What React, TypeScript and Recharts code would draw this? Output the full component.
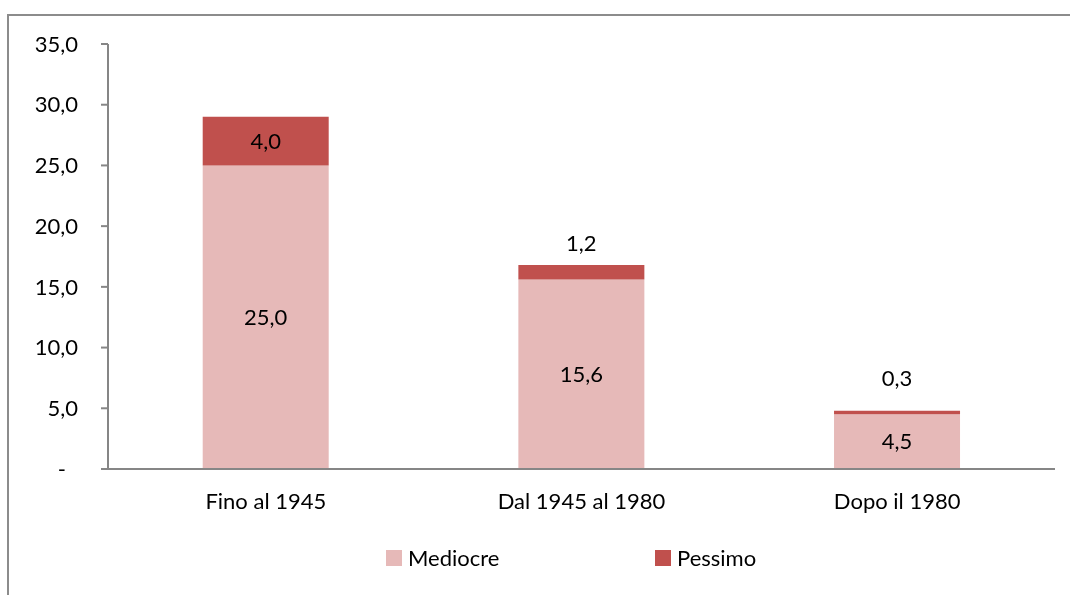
import { Bar, BarChart, XAxis, YAxis, LabelList } from 'recharts';

const categories = ['Fino al 1945', 'Dal 1945 al 1980', 'Dopo il 1980'];
const mediocre = [25.0, 15.6, 4.5];
const pessimo = [4.0, 1.2, 0.3];
const yTicks = [0, 5, 10, 15, 20, 25, 30, 35];
const edgeTicks = [0, 1, 2, 3];

const COLOR_MEDIOCRE = '#E6B9B8';
const COLOR_PESSIMO = '#C0504D';
const AXIS_GRAY = '#868686';
const FONT = 'Lato, "Noto Sans", sans-serif';
const FS = 22;

const data = categories.map((name, i) => ({
  name,
  mediocre: mediocre[i],
  pessimo: pessimo[i],
}));

const fmt = (v: number) => v.toFixed(1).replace('.', ',');

const YTick = (props: any) => {
  const { x, y, payload } = props;
  const zero = payload.value === 0;
  return (
    <text
      x={zero ? x - 12 : x}
      y={y}
      dy="0.35em"
      textAnchor="end"
      fill="#000"
      fontSize={FS}
      fontFamily={FONT}
    >
      {zero ? '-' : fmt(payload.value)}
    </text>
  );
};

// small segments get their label above the bar, like Excel does
const PessimoLabel = (props: any) => {
  const { x, y, width, height, value } = props;
  const cx = x + width / 2;
  const ty = height < 30 ? y - 22 - Math.max(0, 14 - height) : y + height / 2;
  return (
    <text
      x={cx}
      y={ty}
      dy="0.35em"
      textAnchor="middle"
      fill="#000"
      fontSize={FS}
      fontFamily={FONT}
    >
      {fmt(value)}
    </text>
  );
};

const MediocreLabel = (props: any) => {
  const { x, y, width, height, value } = props;
  return (
    <text
      x={x + width / 2}
      y={y + height / 2}
      dy="0.35em"
      textAnchor="middle"
      fill="#000"
      fontSize={FS}
      fontFamily={FONT}
    >
      {fmt(value)}
    </text>
  );
};

const legendItems = [
  { label: 'Mediocre', color: COLOR_MEDIOCRE, left: 377 },
  { label: 'Pessimo', color: COLOR_PESSIMO, left: 646 },
];

export default function App() {
  return (
    <div
      style={{
        position: 'fixed',
        top: 14,
        left: 7,
        width: 1070,
        height: 600,
        boxSizing: 'border-box',
        borderTop: '2px solid #8c8c8c',
        borderLeft: '2px solid #8c8c8c',
        fontFamily: FONT,
      }}
    >
      <BarChart
        width={1052}
        height={570}
        data={data}
        barCategoryGap="30%"
        margin={{ top: 28, right: 6, left: 0, bottom: 87 }}
      >
        <XAxis
          xAxisId="edge"
          type="number"
          domain={[0, 3]}
          ticks={edgeTicks}
          allowDataOverflow
          tick={false}
          tickSize={7}
          axisLine={false}
          tickLine={{ stroke: AXIS_GRAY, strokeWidth: 2 }}
          height={0}
        />
        <XAxis
          dataKey="name"
          xAxisId="cat"
          height={30}
          tickSize={0}
          tickMargin={24}
          tickLine={false}
          axisLine={{ stroke: AXIS_GRAY, strokeWidth: 2 }}
          tick={{ fill: '#000', fontSize: FS, fontFamily: FONT }}
        />
        <YAxis
          width={99}
          domain={[0, 35]}
          ticks={yTicks}
          tickSize={7}
          tickMargin={23}
          axisLine={{ stroke: AXIS_GRAY, strokeWidth: 2 }}
          tickLine={{ stroke: AXIS_GRAY, strokeWidth: 2 }}
          tick={<YTick />}
        />
        <Bar
          dataKey="mediocre"
          xAxisId="cat"
          stackId="a"
          fill={COLOR_MEDIOCRE}
          isAnimationActive={false}
        >
          <LabelList dataKey="mediocre" content={<MediocreLabel />} />
        </Bar>
        <Bar
          dataKey="pessimo"
          xAxisId="cat"
          stackId="a"
          fill={COLOR_PESSIMO}
          isAnimationActive={false}
        >
          <LabelList dataKey="pessimo" content={<PessimoLabel />} />
        </Bar>
      </BarChart>
      {legendItems.map((item) => (
        <div
          key={item.label}
          style={{
            position: 'absolute',
            left: item.left,
            top: 528,
            display: 'flex',
            alignItems: 'center',
            fontSize: FS,
            color: '#000',
          }}
        >
          <span
            style={{
              display: 'inline-block',
              width: 16,
              height: 16,
              background: item.color,
              marginRight: 6,
            }}
          />
          {item.label}
        </div>
      ))}
    </div>
  );
}
